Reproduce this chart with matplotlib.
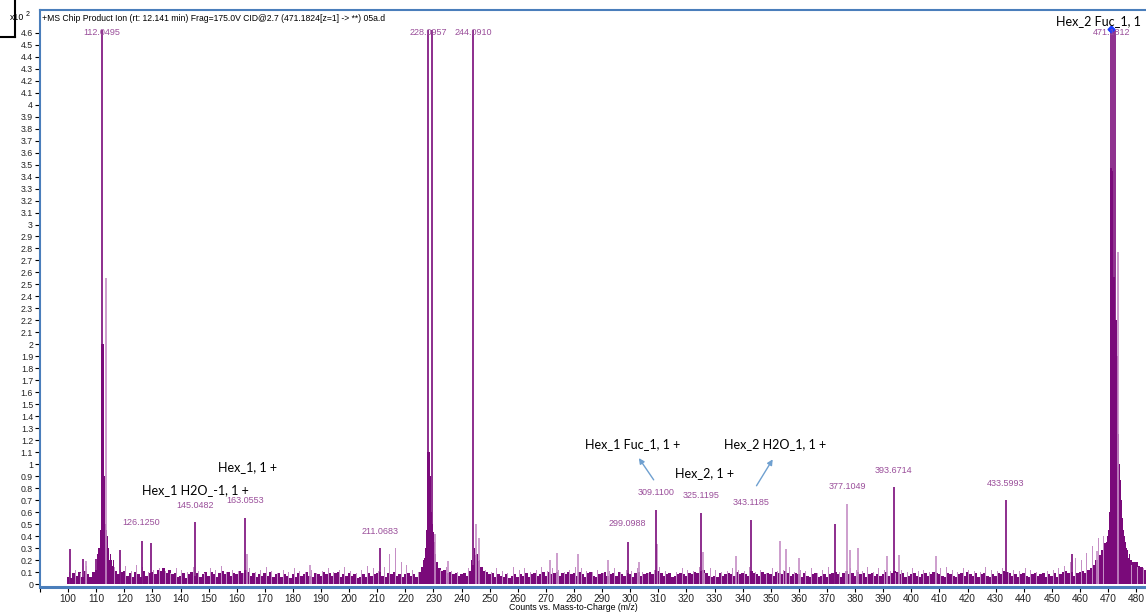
import matplotlib
matplotlib.use('Agg')
from matplotlib import pyplot as plt
from matplotlib.lines import Line2D
import numpy as np

plt.rcParams['font.family'] = ['Liberation Sans', 'DejaVu Sans']

# baseline noise, one value per m/z unit from 100 to 483 (hundredths of x10^2 counts)
noise_start = 100
noise = [
    6, 5, 9, 7, 10, 6, 11, 8, 6, 10,
    12, 16, 24, 30, 26, 20, 15, 11, 8, 10,
    11, 7, 9, 6, 10, 8, 6, 11, 7, 9,
    10, 8, 12, 11, 13, 9, 12, 8, 9, 6,
    7, 9, 5, 8, 10, 7, 9, 6, 8, 10,
    7, 10, 8, 6, 9, 11, 8, 10, 7, 9,
    8, 11, 9, 12, 10, 7, 9, 6, 8, 7,
    9, 7, 10, 6, 8, 9, 6, 8, 7, 5,
    8, 6, 9, 7, 8, 10, 7, 6, 9, 8,
    7, 10, 8, 9, 7, 9, 10, 6, 8, 7,
    9, 7, 8, 5, 6, 8, 6, 9, 7, 8,
    9, 10, 7, 6, 9, 8, 10, 7, 8, 6,
    8, 9, 7, 8, 6, 10, 14, 22, 30, 28,
    24, 18, 13, 11, 12, 9, 10, 8, 9, 7,
    8, 9, 7, 11, 16, 24, 19, 14, 11, 10,
    8, 9, 6, 8, 7, 6, 8, 5, 7, 8,
    6, 8, 7, 9, 6, 8, 9, 7, 8, 10,
    7, 10, 8, 9, 10, 7, 9, 8, 10, 8,
    9, 7, 10, 8, 6, 9, 10, 7, 6, 8,
    9, 10, 7, 8, 9, 7, 10, 8, 7, 9,
    8, 6, 9, 10, 7, 8, 9, 10, 8, 12,
    11, 9, 7, 8, 9, 6, 7, 8, 9, 8,
    7, 9, 8, 10, 9, 11, 12, 9, 7, 6,
    7, 6, 9, 7, 8, 9, 8, 7, 10, 8,
    9, 8, 7, 11, 9, 8, 7, 10, 8, 9,
    8, 7, 10, 9, 8, 11, 9, 7, 8, 9,
    8, 6, 9, 7, 6, 8, 9, 6, 7, 8,
    6, 8, 9, 10, 8, 6, 9, 11, 8, 9,
    7, 10, 8, 9, 6, 8, 9, 7, 8, 7,
    8, 10, 7, 9, 11, 10, 8, 9, 6, 7,
    8, 9, 7, 6, 8, 9, 7, 8, 10, 9,
    8, 7, 6, 9, 8, 7, 6, 8, 9, 7,
    10, 8, 7, 9, 6, 8, 9, 7, 6, 8,
    7, 9, 8, 11, 10, 9, 7, 8, 6, 8,
    9, 7, 6, 8, 9, 7, 8, 9, 6, 8,
    7, 9, 6, 8, 10, 11, 9, 10, 7, 9,
    10, 11, 9, 12, 13, 16, 20, 24, 28, 34,
    40, 60, 60, 50, 40, 30, 25, 22, 20, 18,
    18, 15, 14, 12,
]

# lighter noise lines, one per two m/z units starting at 100.5
light_noise_start = 100.5
light_noise = [
    10, 12, 9, 15, 13, 22, 40, 28, 14, 12,
    15, 11, 16, 14, 10, 12, 13, 11, 9, 13,
    12, 10, 14, 11, 9, 13, 12, 15, 10, 12,
    11, 9, 13, 10, 12, 14, 11, 9, 12, 10,
    13, 11, 10, 12, 9, 11, 13, 10, 12, 14,
    11, 9, 12, 15, 13, 11, 14, 25, 30, 18,
    16, 12, 10, 13, 11, 9, 12, 14, 11, 10,
    12, 13, 9, 11, 12, 10, 13, 11, 9, 14,
    12, 13, 10, 12, 14, 11, 13, 12, 10, 12,
    14, 13, 11, 10, 12, 9, 11, 13, 10, 12,
    11, 13, 10, 9, 12, 14, 11, 12, 10, 13,
    12, 11, 14, 9, 13, 12, 10, 11, 13, 12,
    11, 14, 10, 12, 9, 13, 11, 12, 14, 10,
    12, 11, 13, 9, 12, 14, 12, 10, 11, 13,
    12, 11, 14, 10, 13, 12, 11, 9, 12, 10,
    13, 11, 12, 10, 11, 13, 14, 12, 10, 13,
    12, 11, 10, 14, 12, 11, 13, 10, 12, 11,
    13, 12, 10, 14, 11, 12, 13, 15, 18, 22,
    20, 26, 32, 38, 40, 30, 22, 20, 18, 16,
    14, 13,
]

# dense fill around the big clusters
cluster_mz = [110.5, 111.0, 111.5, 112.0, 112.4, 112.8, 113.2, 113.6, 114.0, 114.5, 115.0, 116.0,
              226.5, 227.0, 227.5, 228.0, 228.4, 228.8, 229.2, 229.6, 230.0, 230.4, 230.8,
              243.5, 244.5, 245.5, 246.5,
              469.6, 469.9, 470.2, 470.5, 470.8, 471.1, 471.4, 471.7, 472.0, 472.3, 472.6,
              472.9, 473.2, 473.5, 473.8, 474.1, 474.4, 474.7, 475.0, 475.4, 475.8, 476.2,
              476.6, 477.0, 477.5, 478.0]
cluster_int = [0.25, 0.3, 0.45, 2.0, 2.0, 0.9, 0.5, 0.45, 0.4, 0.3, 0.25, 0.2,
               0.2, 0.3, 0.45, 1.1, 1.1, 0.9, 0.6, 0.5, 0.43, 0.35, 0.25,
               0.2, 0.3, 0.25, 0.2,
               0.35, 0.4, 0.45, 0.6, 3.47, 3.47, 3.45, 3.4, 2.56, 2.56, 2.2,
               2.2, 1.9, 1.87, 1.25, 1.0, 0.87, 0.7, 0.55, 0.45, 0.4, 0.35,
               0.3, 0.28, 0.25, 0.2]

# dark sticks
peak_mz = [100.7, 105.4, 109.8, 112.05, 118.3, 126.4, 129.4, 145.05, 163.06, 211.07,
           228.1, 229.3, 244.1, 299.1, 309.11, 325.12, 343.12, 373.0, 393.67, 433.6,
           457.0, 471.05, 471.6, 472.5]
peak_int = [0.29, 0.21, 0.21, 4.62, 0.28, 0.36, 0.345, 0.515, 0.55, 0.30,
            4.62, 4.62, 4.62, 0.35, 0.62, 0.595, 0.53, 0.50, 0.81, 0.70,
            0.25, 4.62, 4.62, 4.62]

# lighter sticks
light_mz = [106.5, 113.5, 163.6, 185.9, 230.6, 235.3, 245.0, 246.2, 271.3, 274.1, 281.4,
            292.0, 303.0, 309.5, 326.0, 337.7, 353.4, 355.3, 360.2, 377.1, 378.3,
            381.1, 391.3, 395.6, 408.9, 465.9, 473.6]
light_int = [0.19, 2.55, 0.25, 0.16, 0.42, 0.19, 0.50, 0.38, 0.20, 0.26, 0.25,
             0.20, 0.18, 0.33, 0.27, 0.23, 0.36, 0.29, 0.22, 0.67, 0.28,
             0.30, 0.23, 0.24, 0.23, 0.275, 2.77]

# peak labels (text, x, y)
label_text = ['112.0495', '228.0957', '244.0910', '471.1812', '126.1250', '145.0482',
              '163.0553', '211.0683', '299.0988', '309.1100', '325.1195', '343.1185',
              '377.1049', '393.6714', '433.5993']
label_x = [112.05, 228.1, 244.1, 471.2, 126.1, 145.05, 163.06, 211.07, 299.1, 309.11,
           325.12, 343.12, 377.1, 393.67, 433.6]
label_y = [4.6, 4.6, 4.6, 4.6, 0.515, 0.655, 0.695, 0.44, 0.505, 0.765, 0.74, 0.68,
           0.81, 0.95, 0.84]

# fragment annotations
ann_text = ['Hex_1, 1 +', 'Hex_1 H2O_-1, 1 +', 'Hex_1 Fuc_1, 1 +', 'Hex_2, 1 +',
            'Hex_2 H2O_1, 1 +']
ann_x = [163.7, 145.2, 300.7, 326.3, 351.6]
ann_y = [0.98, 0.785, 1.17, 0.93, 1.17]

dark = '#7a0a7a'
light = '#c58ec5'
label_col = '#9a4e9a'

fig = plt.figure(figsize=(11.46, 6.16), dpi=100)
ax = fig.add_axes([40 / 1146, 1 - 587 / 616, 1 - 40 / 1146, 577 / 616])

nx = np.arange(len(noise)) + noise_start
ax.bar(nx, np.array(noise) / 100.0, width=1.0, color=dark, linewidth=0)
lx = np.arange(len(light_noise)) * 2 + light_noise_start
ax.bar(lx, np.array(light_noise) / 100.0, width=0.35, color=light, linewidth=0)
ax.bar(cluster_mz, cluster_int, width=0.4, color=dark, linewidth=0)
ax.vlines(light_mz, 0, light_int, colors=light, linewidth=1.2)
ax.vlines(peak_mz, 0, peak_int, colors=dark, linewidth=1.2)

for t, x, y in zip(label_text, label_x, label_y):
    ax.text(x, y, t, color=label_col, fontsize=6.5, ha='center', va='center')
ax.plot([471.2], [4.63], marker='D', color='#1a3cff', markersize=3.5)

for t, x, y in zip(ann_text, ann_x, ann_y):
    ax.text(x, y, t, color='black', fontsize=9, ha='center', va='center',
            family=['Lato', 'DejaVu Sans'])
ax.text(451.5, 4.70, 'Hex_2 Fuc_1, 1', color='black', fontsize=9, ha='left',
        va='center', family=['Lato', 'DejaVu Sans'])

arrow = dict(arrowstyle='-|>', color='#6fa0d0', lw=1.0, mutation_scale=8)
ax.annotate('', xy=(302.5, 1.07), xytext=(308.9, 0.85), arrowprops=arrow)
ax.annotate('', xy=(351.2, 1.06), xytext=(344.4, 0.80), arrowprops=arrow)

ax.set_xlim(90, 483.5)
ax.set_ylim(-0.025, 4.79)

xt = np.arange(90, 481, 10)
ax.set_xticks(xt)
ax.set_xticklabels([''] + [str(v) for v in xt[1:]], fontsize=7.3)
yt = np.round(np.arange(0, 4.61, 0.1), 1)
ax.set_yticks(yt)
ax.set_yticklabels(['%g' % v for v in yt], fontsize=6.3)
ax.tick_params(axis='both', direction='out', length=3.5, width=0.8, pad=1.5,
               colors='black', labelcolor='#222222')

for side in ['left', 'top', 'bottom']:
    ax.spines[side].set_color('#4a7ebb')
ax.spines['left'].set_linewidth(1.5)
ax.spines['top'].set_linewidth(1.5)
ax.spines['bottom'].set_linewidth(2.2)
ax.spines['right'].set_visible(False)

ax.text(0.002, 0.993, '+MS Chip Product Ion (rt: 12.141 min) Frag=175.0V CID@2.7 '
        '(471.1824[z=1] -> **) 05a.d', transform=ax.transAxes, fontsize=6.2,
        ha='left', va='top')
fig.text(10 / 1146, 1 - 18 / 616, 'x10', fontsize=6.3, va='center', ha='left')
fig.text(26 / 1146, 1 - 15 / 616, '2', fontsize=5, va='center', ha='left')

fig.add_artist(Line2D([15 / 1146, 15 / 1146], [1, 1 - 37 / 616], color='black', lw=1.5))
fig.add_artist(Line2D([0, 15 / 1146], [1 - 37 / 616, 1 - 37 / 616], color='black', lw=1.5))

fig.text(0.5, 1 - 608 / 616, 'Counts vs. Mass-to-Charge (m/z)', fontsize=6.3,
         ha='center', va='center')

plt.savefig('out.png', dpi=100)
plt.close()
